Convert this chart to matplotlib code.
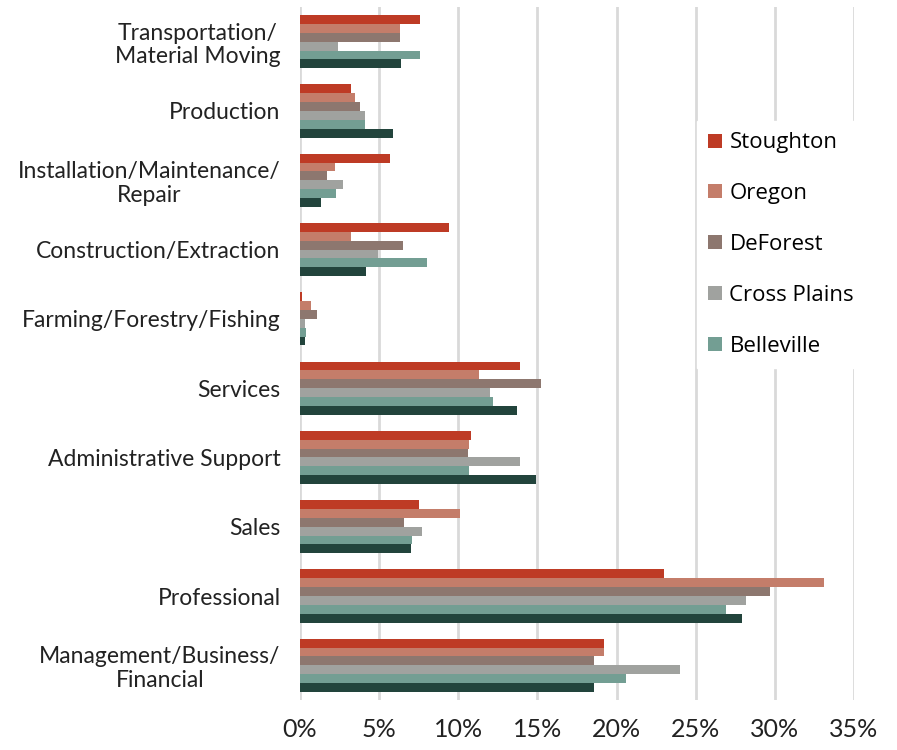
import numpy as np
import matplotlib.pyplot as plt

# =========================================================
# DONNEES
# =========================================================

categories = [
    "Transportation/\nMaterial Moving",
    "Production",
    "Installation/Maintenance/\nRepair",
    "Construction/Extraction",
    "Farming/Forestry/Fishing",
    "Services",
    "Administrative Support",
    "Sales",
    "Professional",
    "Management/Business/\nFinancial",
]

stoughton = [7.6, 3.2, 5.7, 9.4, 0.1, 13.9, 10.8, 7.5, 23.0, 19.2]
oregon = [6.3, 3.5, 2.2, 3.2, 0.7, 11.3, 10.7, 10.1, 33.1, 19.2]
deforest = [6.3, 3.8, 1.7, 6.5, 1.1, 15.2, 10.6, 6.6, 29.7, 18.6]
cross_plains = [2.4, 4.1, 2.7, 4.9, 0.3, 12.0, 13.9, 7.7, 28.2, 24.0]
belleville = [7.6, 4.1, 2.3, 8.0, 0.4, 12.2, 10.7, 7.1, 26.9, 20.6]
dane_county = [6.4, 5.9, 1.3, 4.2, 0.3, 13.7, 14.9, 7.0, 27.9, 18.6]

series = [
    ("Stoughton", stoughton, "#BE3B25"),
    ("Oregon", oregon, "#C47D6A"),
    ("DeForest", deforest, "#8D776F"),
    ("Cross Plains", cross_plains, "#A0A29F"),
    ("Belleville", belleville, "#739E93"),
    ("_Dane County", dane_county, "#22443C"),
]

x_ticks = [0, 5, 10, 15, 20, 25, 30, 35]

# =========================================================
# FIGURE
# =========================================================

fig = plt.figure(figsize=(8.97, 7.5), dpi=100)
ax = fig.add_axes([300 / 897, 50 / 750, 554 / 897, 693 / 750])

y = np.arange(len(categories))
bar_h = 0.128

for i, (name, vals, color) in enumerate(series):
    ax.barh(y + (i - 2.5) * bar_h, vals, height=bar_h, color=color,
            label=name, zorder=3)

ax.set_ylim(len(categories) - 0.5, -0.5)
ax.set_xlim(0, 35)

ax.set_yticks(y)
ax.set_yticklabels(categories, fontsize=16.5, family="Lato", color="#222222",
                   multialignment="center", linespacing=1.15)
ax.set_xticks(x_ticks)
ax.set_xticklabels([f"{t}%" for t in x_ticks], fontsize=18, family="Lato",
                   color="#222222")
ax.tick_params(axis="y", length=0, pad=14)
ax.tick_params(axis="x", length=0, pad=13)

ax.grid(axis="x", color="#D9D9D9", linewidth=2, zorder=0)
for s in ax.spines.values():
    s.set_visible(False)

leg = ax.legend(loc="upper left", bbox_to_anchor=(0.697, 0.851),
                frameon=True, facecolor="white", edgecolor="white",
                framealpha=1, fancybox=False,
                prop={"family": "Open Sans", "size": 16},
                handlelength=0.6, handleheight=0.6, handletextpad=0.35,
                labelspacing=1.34, borderpad=0.5)
leg.set_zorder(5)

plt.savefig("out.png", dpi=100)
plt.close()
